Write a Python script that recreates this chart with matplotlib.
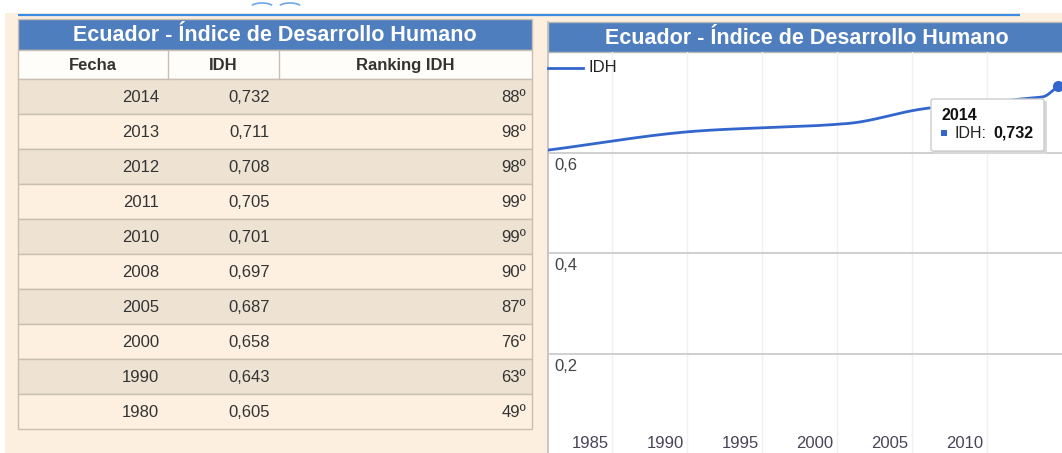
import numpy as np
import matplotlib
matplotlib.use("Agg")
import matplotlib.pyplot as plt
from matplotlib.patches import Rectangle, FancyBboxPatch, Arc
import matplotlib.transforms as mtransforms

plt.rcParams['font.family'] = ['Liberation Sans', 'DejaVu Sans']

# ---------------- data ----------------
title = "Ecuador - Índice de Desarrollo Humano"
col_headers = ["Fecha", "IDH", "Ranking IDH"]
years = [2014, 2013, 2012, 2011, 2010, 2008, 2005, 2000, 1990, 1980]
idh = [0.732, 0.711, 0.708, 0.705, 0.701, 0.697, 0.687, 0.658, 0.643, 0.605]
ranking = [88, 98, 98, 99, 99, 90, 87, 76, 63, 49]
x_tick_labels = [1985, 1990, 1995, 2000, 2005, 2010]
y_ticks = [0.2, 0.4, 0.6]
series_name = "IDH"
tooltip_year = 2014

# ---------------- style ----------------
W, H = 1062, 453
BLUE_BAR = "#4E7EBE"
LINE_BLUE = "#3366CC"
CREAM = "#FDEFDF"
ROW_DARK = "#EEE3D3"
ROW_LIGHT = "#FDF0E0"
BORDER = "#C8BEB2"
TXT = "#333333"
FS = 12
FS_TITLE = 15.5

fmt = lambda v: f"{v:.3f}".replace(".", ",")

fig = plt.figure(figsize=(W / 100, H / 100), dpi=100)
fig.patch.set_facecolor("white")

# full-figure canvas in pixel coordinates
ax0 = fig.add_axes([0, 0, 1, 1])
ax0.set_xlim(0, W)
ax0.set_ylim(H, 0)
ax0.axis("off")

# page background
ax0.add_patch(Rectangle((5, 13), W - 5, H - 13, facecolor=CREAM, edgecolor="none"))
# top blue rule with small tab outline
ax0.plot([18, 1020], [15, 15], color="#3A8CE4", lw=1.6, solid_capstyle="butt")
ax0.add_patch(Arc((262, 9), 26, 12, theta1=200, theta2=340, color="#6FA6EA", lw=1.2))
ax0.add_patch(Arc((290, 9), 26, 12, theta1=200, theta2=340, color="#6FA6EA", lw=1.2))

# ---------------- table ----------------
cols = [18, 168, 279, 532]
t_top, h_top, r0, rh = 19, 50, 79, 35
ax0.add_patch(Rectangle((cols[0], t_top), cols[-1] - cols[0], h_top - t_top,
                        facecolor=BLUE_BAR, edgecolor=BORDER, lw=1.0))
ax0.text((cols[0] + cols[-1]) / 2, (t_top + h_top) / 2 + 1, title, color="white",
         fontsize=FS_TITLE, fontweight="bold", ha="center", va="center")

ax0.add_patch(Rectangle((cols[0], h_top), cols[-1] - cols[0], r0 - h_top,
                        facecolor="#FFFDF9", edgecolor=BORDER, lw=1.0))
for i, hd in enumerate(col_headers):
    ax0.text((cols[i] + cols[i + 1]) / 2, (h_top + r0) / 2 + 1, hd, color=TXT,
             fontsize=FS, fontweight="bold", ha="center", va="center")

for k, (yr, v, rk) in enumerate(zip(years, idh, ranking)):
    y0 = r0 + k * rh
    ax0.add_patch(Rectangle((cols[0], y0), cols[-1] - cols[0], rh,
                            facecolor=ROW_DARK if k % 2 == 0 else ROW_LIGHT,
                            edgecolor=BORDER, lw=1.0))
    yc = y0 + rh / 2 + 1
    ax0.text(cols[1] - 9, yc, str(yr), color=TXT, fontsize=FS, ha="right", va="center")
    ax0.text(cols[2] - 9, yc, fmt(v), color=TXT, fontsize=FS, ha="right", va="center")
    ax0.text(cols[3] - 6, yc, f"{rk}º", color=TXT, fontsize=FS, ha="right", va="center")

for c in cols[1:3]:
    ax0.plot([c, c], [h_top, r0], color=BORDER, lw=1.0)

# ---------------- chart panel ----------------
cx0, cy_title, cy_plot = 548, 22, 52
ax0.add_patch(Rectangle((cx0, cy_title), W - cx0, H - cy_title, facecolor="white",
                        edgecolor="none"))
ax0.add_patch(Rectangle((cx0, cy_title), W - cx0 + 2, cy_plot - cy_title,
                        facecolor=BLUE_BAR, edgecolor="#B8B8B8", lw=1.0))
ax0.text((cx0 + W) / 2 + 2, (cy_title + cy_plot) / 2 + 1, title, color="white",
         fontsize=FS_TITLE, fontweight="bold", ha="center", va="center")
ax0.plot([cx0, cx0], [cy_title, H], color="#BDBDBD", lw=1.2)

ax = fig.add_axes([cx0 / W, 0, (W - cx0) / W, (H - cy_plot) / H])
ax.set_facecolor("none")
px_per_year = 15.0
ax.set_xlim(1980, 1980 + (W - cx0) / px_per_year)
ax.set_ylim(0.003, 0.8)
ax.axis("off")

# vertical faint gridlines (offset from labels as in original)
vtrans = mtransforms.blended_transform_factory(ax.transData, ax.transAxes) + \
    mtransforms.ScaledTranslation(-11 / 100, 0, fig.dpi_scale_trans)
for yr in x_tick_labels:
    ax.plot([yr, yr], [0, 1], transform=vtrans, color="#F0F0F0", lw=1.0, zorder=0)

for t in y_ticks:
    ax.axhline(t, color="#CCCCCC", lw=1.3, zorder=1)
    ax.annotate(f"{t:.1f}".replace(".", ","), xy=(0, t), xycoords=("axes fraction", "data"),
                xytext=(6, -5), textcoords="offset pixels", ha="left", va="top",
                fontsize=FS, color="#444444")

for yr in x_tick_labels:
    ax.annotate(str(yr), xy=(yr, 0), xycoords=("data", "axes fraction"),
                xytext=(-33, 2), textcoords="offset pixels", ha="center", va="bottom",
                fontsize=FS, color="#4A4458")

# smooth line (monotone cubic through the data points)
xs = np.array(years[::-1], dtype=float)
ys = np.array(idh[::-1], dtype=float)
d = np.diff(ys) / np.diff(xs)
m = np.zeros_like(ys)
m[0], m[-1] = d[0], d[-1]
for i in range(1, len(xs) - 1):
    if d[i - 1] * d[i] <= 0:
        m[i] = 0
    else:
        w1 = 2 * (xs[i + 1] - xs[i]) + (xs[i] - xs[i - 1])
        w2 = (xs[i + 1] - xs[i]) + 2 * (xs[i] - xs[i - 1])
        m[i] = (w1 + w2) / (w1 / d[i - 1] + w2 / d[i])
cx, cy = [], []
for i in range(len(xs) - 1):
    h = xs[i + 1] - xs[i]
    t = np.linspace(0, 1, 40)
    h00 = 2 * t**3 - 3 * t**2 + 1
    h10 = t**3 - 2 * t**2 + t
    h01 = -2 * t**3 + 3 * t**2
    h11 = t**3 - t**2
    cx.append(xs[i] + t * h)
    cy.append(h00 * ys[i] + h10 * h * m[i] + h01 * ys[i + 1] + h11 * h * m[i + 1])
ax.plot(np.concatenate(cx), np.concatenate(cy), color=LINE_BLUE, lw=2.0, zorder=3,
        clip_on=True)
ti = years.index(tooltip_year)
ax.plot([years[ti]], [idh[ti]], "o", ms=7, color=LINE_BLUE, zorder=4, clip_on=False)

# overlay (legend + tooltip) above the chart
ov = fig.add_axes([0, 0, 1, 1])
ov.set_xlim(0, W)
ov.set_ylim(H, 0)
ov.axis("off")
ov.set_facecolor("none")

ov.plot([cx0, 583], [68, 68], color=LINE_BLUE, lw=2.0)
ov.text(588, 68, series_name, fontsize=FS, color="#222222", ha="left", va="center")

ov.add_patch(Rectangle((933, 101), 114, 53, facecolor="#D8D8D8", edgecolor="none", zorder=5))
ov.add_patch(FancyBboxPatch((931, 99), 113, 52, boxstyle="round,pad=0,rounding_size=2",
                            facecolor="white", edgecolor="#CCCCCC", lw=1.0, zorder=6))
ov.text(941, 116, str(tooltip_year), fontsize=11.5, fontweight="bold", color="#111111",
        ha="left", va="center", zorder=7)
ov.add_patch(Rectangle((941, 130), 6, 6, facecolor=LINE_BLUE, edgecolor="none", zorder=7))
ov.text(954, 133.5, f"{series_name}:", fontsize=11.5, color="#222222", ha="left",
        va="center", zorder=7)
ov.text(993, 133.5, fmt(idh[ti]), fontsize=11.5, fontweight="bold", color="#111111",
        ha="left", va="center", zorder=7)

fig.savefig("out.png", dpi=100, facecolor=fig.get_facecolor())
